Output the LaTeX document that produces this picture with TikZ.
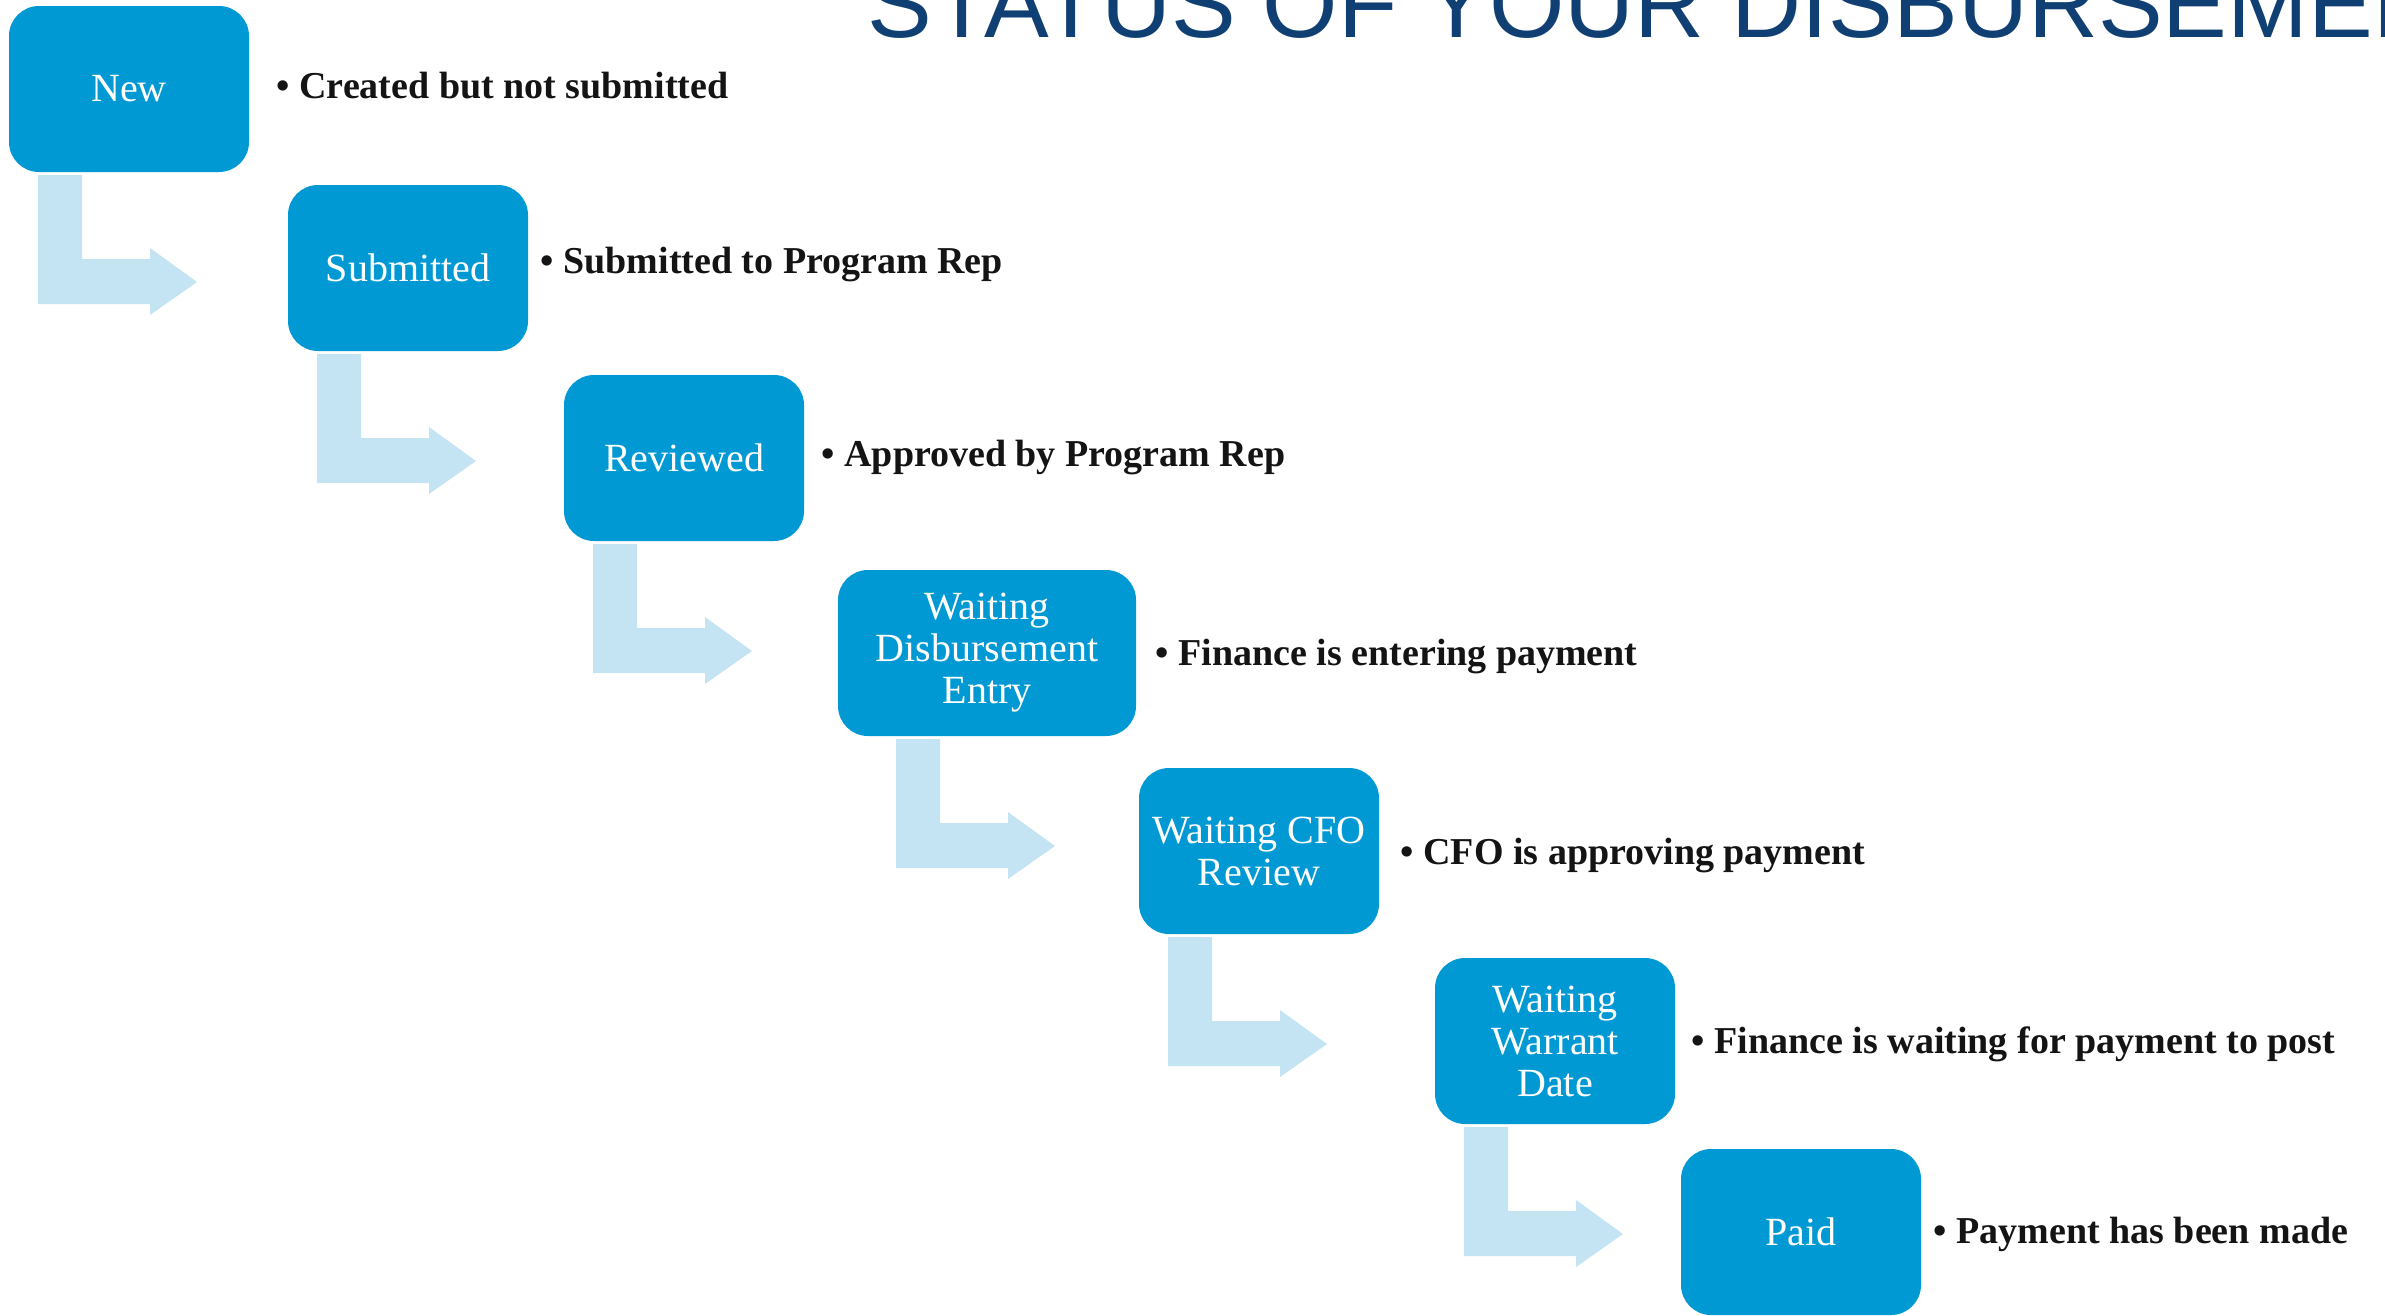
\documentclass[tikz,border=0pt]{standalone}
\usepackage{fontspec}
\setmainfont{Liberation Serif}
\newfontfamily\titlefont{Liberation Sans}
\usetikzlibrary{calc}
\definecolor{boxblue}{RGB}{0,153,212}
\definecolor{arrowblue}{RGB}{196,228,243}
\definecolor{titleblue}{RGB}{16,64,115}
\definecolor{desctext}{RGB}{20,20,20}
\tikzset{
  stage/.style={fill=boxblue, rounded corners=9pt, minimum width=72pt, minimum height=49.8pt,
    inner sep=0pt, outer sep=0pt, text=white, align=center,
    font=\fontsize{12}{12.6}\selectfont},
  widestage/.style={stage, minimum width=89.4pt},
  desc/.style={anchor=base west, inner sep=0pt, text=desctext,
    font=\fontsize{11.4}{13}\selectfont\bfseries},
  bentarrow/.style={fill=arrowblue}
}
\newcommand{\bentarrowfrom}[1]{%
  \fill[bentarrow, shift={(#1.south)}] (-91,3) -- (-47,3) -- (-47,87) -- (21,87) -- (21,76)
    -- (68,110) -- (21,143) -- (21,132) -- (-91,132) -- cycle;}
\begin{document}
\begin{tikzpicture}[x=0.3pt, y=-0.3pt]
\useasboundingbox (0,0) rectangle (2385,1315);
\begin{scope}
  \clip (0,0) rectangle (2385,1315);
  \node[anchor=base west, inner sep=0pt, text=titleblue, font=\titlefont\fontsize{29.1}{32}\selectfont]
    (title) at (867,37) {STATUS OF YOUR DISBURSEMENTS};
\end{scope}

\node[stage] (s1) at (129,89) {New};
\node[stage] (s2) at (408,268) {Submitted};
\node[stage] (s3) at (684,458) {Reviewed};
\node[widestage] (s4) at (987,653) {Waiting\\Disbursement\\Entry};
\node[stage] (s5) at (1259,851) {Waiting CFO\\Review};
\node[stage] (s6) at (1555,1041) {Waiting\\Warrant\\Date};
\node[stage] (s7) at (1801,1232) {Paid};

\bentarrowfrom{s1}
\bentarrowfrom{s2}
\bentarrowfrom{s3}
\bentarrowfrom{s4}
\bentarrowfrom{s5}
\bentarrowfrom{s6}

\node[desc] (d1) at (276,98) {• Created but not submitted};
\node[desc] (d2) at (540,273) {• Submitted to Program Rep};
\node[desc] (d3) at (821,466) {• Approved by Program Rep};
\node[desc] (d4) at (1155,665) {• Finance is entering payment};
\node[desc] (d5) at (1400,864) {• CFO is approving payment};
\node[desc] (d6) at (1691,1053) {• Finance is waiting for payment to post};
\node[desc] (d7) at (1933,1243) {• Payment has been made};
\end{tikzpicture}
\end{document}
